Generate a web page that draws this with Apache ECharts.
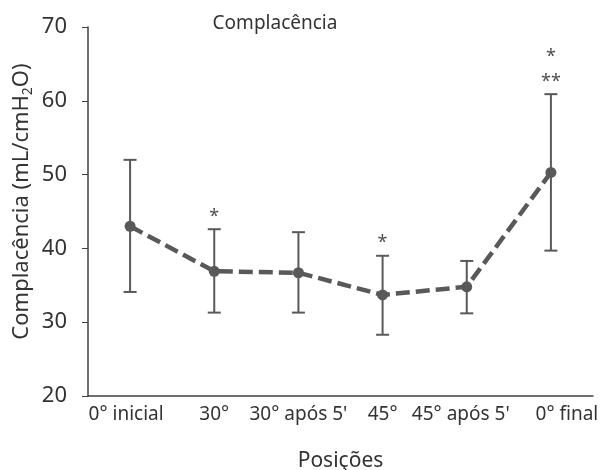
<!DOCTYPE html>
<html>
<head>
<meta charset="utf-8">
<script src="https://cdn.jsdelivr.net/npm/echarts@6/dist/echarts.min.js"></script>
<style>
  html, body { margin: 0; padding: 0; background: #fff; }
  #chart { width: 601px; height: 470px; }
</style>
</head>
<body>
<div id="chart"></div>
<script>
const positions = ['0° inicial', '30°', '30° após 5\'', '45°', '45° após 5\'', '0° final']
const means = [43.0, 36.9, 36.7, 33.7, 34.8, 50.3]
const upper = [52.0, 42.6, 42.2, 39.0, 38.3, 60.9]
const lower = [34.1, 31.3, 31.3, 28.3, 31.2, 39.7]
const stars = ['', '*', '', '*', '', '*\n**']

const font = 'Noto Sans'
const grey = '#595959'

// small nudges so the crowded tick labels sit where they do in the original
const labelPad = [[0, 8, 0, 0], 0, 0, 0, [0, 12, 0, 0], [0, 0, 0, 32]]

const chart = echarts.init(document.getElementById('chart'))

chart.setOption({
  animation: false,
  title: {
    text: 'Complacência',
    left: 270,
    textAlign: 'center',
    top: 9,
    textStyle: { fontFamily: font, fontSize: 19, fontWeight: 'normal', color: '#333' }
  },
  grid: { left: 88, right: 8, top: 27, bottom: 74, outerBoundsMode: 'none' },
  xAxis: {
    type: 'category',
    data: positions.map((p, i) => ({ value: p, textStyle: { padding: labelPad[i] } })),
    name: 'Posições',
    nameLocation: 'middle',
    nameGap: 55,
    nameTextStyle: { fontFamily: font, fontSize: 21, color: '#333' },
    axisLine: { lineStyle: { color: '#404040', width: 1.5 } },
    axisTick: { alignWithLabel: true, length: 5, lineStyle: { color: '#404040' } },
    axisLabel: { fontFamily: font, fontSize: 19, color: '#333', margin: 9, interval: 0 }
  },
  yAxis: {
    type: 'value',
    min: 20,
    max: 70,
    interval: 10,
    name: '{a|Complacência (mL/cmH}{s|2}{a|O)}',
    nameLocation: 'middle',
    nameGap: 53,
    nameMoveOverlap: false,
    nameRotate: 90,
    nameTextStyle: {
      fontFamily: font,
      color: '#333',
      padding: [0, 0, 0, 20],
      rich: {
        a: { fontFamily: font, fontSize: 22, color: '#333', lineHeight: 27, verticalAlign: 'middle' },
        s: { fontFamily: font, fontSize: 14, color: '#333', lineHeight: 27, verticalAlign: 'bottom', padding: [12, 0, 0, 0] }
      }
    },
    splitLine: { show: false },
    axisLine: { show: true, lineStyle: { color: '#404040', width: 1.5 } },
    axisTick: { show: true, length: 6, lineStyle: { color: '#404040' } },
    axisLabel: { fontFamily: font, fontSize: 22, color: '#333', margin: 21 }
  },
  series: [
    {
      type: 'custom',
      z: 1,
      data: positions.map((p, i) => [i, lower[i], upper[i]]),
      renderItem(params, api) {
        const x = api.value(0)
        const lo = api.coord([x, api.value(1)])
        const hi = api.coord([x, api.value(2)])
        const w = 6.5
        const style = { stroke: grey, lineWidth: 2 }
        return {
          type: 'group',
          children: [
            { type: 'line', shape: { x1: lo[0], y1: lo[1], x2: hi[0], y2: hi[1] }, style },
            { type: 'line', shape: { x1: hi[0] - w, y1: hi[1], x2: hi[0] + w, y2: hi[1] }, style },
            { type: 'line', shape: { x1: lo[0] - w, y1: lo[1], x2: lo[0] + w, y2: lo[1] }, style }
          ]
        }
      }
    },
    {
      type: 'line',
      z: 2,
      data: means,
      symbol: 'circle',
      symbolSize: 11,
      itemStyle: { color: grey },
      lineStyle: { color: grey, width: 4.5, type: [14, 6] }
    },
    {
      type: 'scatter',
      z: 3,
      data: upper,
      symbolSize: 0,
      label: {
        show: true,
        position: 'top',
        distance: 0,
        formatter: p => stars[p.dataIndex],
        fontFamily: font,
        fontSize: 18,
        lineHeight: 25,
        color: '#222'
      }
    }
  ]
})
</script>
</body>
</html>
